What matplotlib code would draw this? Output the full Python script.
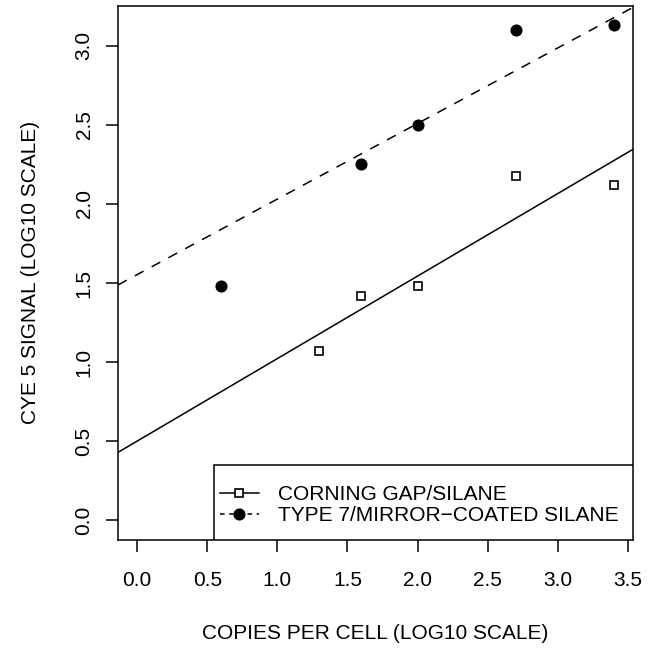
import numpy as np
import matplotlib.pyplot as plt
from matplotlib.lines import Line2D
from matplotlib.patches import Rectangle

plt.rcParams['font.family'] = ['Liberation Sans', 'DejaVu Sans']

# Data (log10 scale)
x_corning = [1.3, 1.6, 2.0, 2.7, 3.4]
y_corning = [1.07, 1.42, 1.48, 2.18, 2.12]
x_type7 = [0.6, 1.6, 2.0, 2.7, 3.4]
y_type7 = [1.48, 2.25, 2.50, 3.10, 3.13]

# fitted lines (intercept, slope)
fit_corning = (0.50, 0.522)
fit_type7 = (1.553, 0.478)

labels = ['CORNING GAP/SILANE', 'TYPE 7/MIRROR\u2212COATED SILANE']
xticks = [0.0, 0.5, 1.0, 1.5, 2.0, 2.5, 3.0, 3.5]
yticks = [0.0, 0.5, 1.0, 1.5, 2.0, 2.5, 3.0]

W, H = 664, 648
fig = plt.figure(figsize=(W / 100, H / 100), dpi=100)
left, right, top, bottom = 118, 633, 5.5, 540
ax = fig.add_axes([left / W, 1 - bottom / H, (right - left) / W, (bottom - top) / H])

# R-style 4% padding around the data range
xr = (0.0, 3.4)
yr = (0.0, 3.13)
px = 0.04 * (xr[1] - xr[0])
py = 0.04 * (yr[1] - yr[0])
ax.set_xlim(xr[0] - px, xr[1] + px)
ax.set_ylim(yr[0] - py, yr[1] + py)

xx = np.array(ax.get_xlim())
ax.plot(xx, fit_corning[0] + fit_corning[1] * xx, color='black', lw=1.1)
ax.plot(xx, fit_type7[0] + fit_type7[1] * xx, color='black', lw=1.1,
        linestyle=(0, (6.5, 6)))

ax.plot(x_corning, y_corning, linestyle='none', marker='s', markersize=6,
        markerfacecolor='white', markeredgecolor='black', markeredgewidth=1.2)
ax.plot(x_type7, y_type7, linestyle='none', marker='o', markersize=7.7,
        color='black')

ax.set_xticks(xticks)
ax.set_yticks(yticks)
ax.set_xticklabels([f'{v:.1f}' for v in xticks])
ax.set_yticklabels([f'{v:.1f}' for v in yticks], rotation=90, va='center')
ax.tick_params(direction='out', length=8.6, width=1.1, labelsize=15)
ax.tick_params(axis='x', pad=13.5)
ax.tick_params(axis='y', pad=9)
for s in ax.spines.values():
    s.set_linewidth(1.1)

ax.set_xlabel('COPIES PER CELL (LOG10 SCALE)', fontsize=15, labelpad=25)
ax.set_ylabel('CYE 5 SIGNAL (LOG10 SCALE)', fontsize=15, labelpad=25)

# legend box (R style, touching bottom-right corner)
box_left = (214 - left) / (right - left)
box_top = (bottom - 465) / (bottom - top)
ax.add_patch(Rectangle((box_left, 0), 1 - box_left, box_top, transform=ax.transAxes,
                       facecolor='white', edgecolor='black', lw=1.1, zorder=4))

handles = [
    Line2D([], [], color='black', lw=1.1, marker='s', markersize=6,
           markerfacecolor='white', markeredgecolor='black', markeredgewidth=1.2),
    Line2D([], [], color='black', lw=1.1, linestyle=(0, (3, 3)), marker='o',
           markersize=7.7),
]
leg = ax.legend(handles, labels, loc='center left',
                bbox_to_anchor=((220 - left) / (right - left), (bottom - 505) / (bottom - top)),
                borderaxespad=0, borderpad=0, fontsize=15, frameon=False,
                handlelength=1.85, handletextpad=0.95, labelspacing=0.1)
leg.set_zorder(5)

fig.savefig('out.png', dpi=100)
